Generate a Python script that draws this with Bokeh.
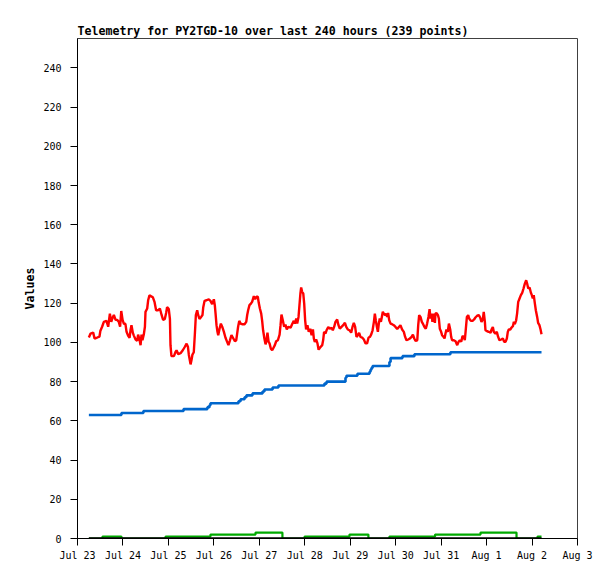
from bokeh.plotting import figure
from bokeh.models import FixedTicker, Range1d
from bokeh.embed import file_html
from bokeh.resources import INLINE

TITLE = "Telemetry for PY2TGD-10 over last 240 hours (239 points)"
Y_LABEL = "Values"

# x values are hours since Jul 23 00:00
day_ticks = [0, 24, 48, 72, 96, 120, 144, 168, 192, 216, 240, 264]
day_labels = ["Jul 23", "Jul 24", "Jul 25", "Jul 26", "Jul 27", "Jul 28",
              "Jul 29", "Jul 30", "Jul 31", "Aug 1", "Aug 2", "Aug 3"]
y_ticks = [0, 20, 40, 60, 80, 100, 120, 140, 160, 180, 200, 220, 240]

red_hours = [
    6.0, 6.9, 8.3, 9.0, 10.4, 11.6, 12.1, 13.0, 13.9, 15.3, 16.2, 17.1, 17.8, 18.7, 19.2,
    20.1, 20.9, 21.8, 22.5, 23.1, 23.8, 24.5, 25.3, 25.9, 26.8, 27.5, 28.0, 28.5, 29.2,
    29.7, 30.6, 31.5, 32.0, 32.7, 33.3, 33.8, 34.3, 35.0, 35.6, 35.9, 36.8, 37.3, 38.0,
    38.9, 39.8, 40.7, 41.5, 42.6, 43.5, 44.4, 45.2, 46.1, 46.8, 47.3, 48.2, 48.8, 49.1,
    49.6, 50.9, 51.7, 52.3, 53.2, 54.4, 55.6, 56.7, 57.6, 58.3, 58.8, 59.7, 60.2, 60.7,
    61.4, 62.0, 62.5, 63.2, 63.7, 64.4, 65.3, 66.0, 66.4,
    67.1, 68.1, 69.3, 70.2, 71.1, 72.0, 72.5, 72.9, 73.4, 73.9, 74.3, 75.0, 75.7, 76.4,
    77.3, 78.1, 79.0, 79.7, 80.4, 81.3, 82.0, 83.1, 83.8, 84.3, 84.8, 85.4, 86.1, 86.9,
    88.2, 89.1, 89.6, 90.1, 90.8, 91.3, 92.2, 93.1, 93.8, 94.5, 95.2, 95.7, 96.3, 97.0,
    97.5, 98.0, 98.7, 99.3, 99.8, 100.3, 100.9, 101.4, 102.1, 102.8, 103.5, 104.2, 104.9,
    105.8, 106.7, 107.2, 107.7, 108.4, 109.1, 109.8, 110.5, 111.4, 112.5, 113.3, 114.2,
    114.8, 115.5, 116.0, 116.7, 117.2, 117.7, 118.1, 118.6, 119.2, 119.7, 120.2, 120.7,
    121.4, 122.1, 122.9, 123.6, 124.3, 124.8, 125.3, 126.0, 126.7, 127.3, 128.0,
    129.2, 129.7, 130.2, 130.9, 131.5, 132.4, 133.2, 134.1, 134.8, 135.5, 136.2, 137.1,
    137.8, 138.5, 139.4, 140.3, 141.2, 141.9, 142.7, 143.6, 144.5, 145.2, 145.9, 146.6,
    147.3, 148.0, 148.7, 149.4, 150.3, 151.2, 152.1, 152.9, 153.7, 154.4, 155.1, 155.8,
    156.5, 157.0, 157.5, 158.1, 158.6, 159.1, 159.6, 160.2, 160.7, 161.2, 161.7, 162.5,
    163.0, 163.5, 164.0, 164.6, 165.3, 166.1, 167.0, 167.9, 168.8, 169.7, 170.5, 171.4,
    172.3, 173.0, 173.7, 174.6, 175.5, 176.4, 177.1, 177.8, 178.5, 179.4, 179.9, 180.4,
    181.1, 181.8, 182.5, 183.2, 183.9, 184.6, 185.3, 185.9, 186.4, 186.9, 187.4, 188.0,
    188.7,
    189.0, 189.6, 190.3, 190.8, 191.3, 192.0, 192.5, 193.3, 193.8, 194.3, 194.8, 195.5,
    196.1, 196.8, 197.3, 197.8, 198.7, 199.6, 200.5, 201.2, 201.9, 202.6, 203.3, 204.0,
    204.5, 204.9, 205.6, 206.3, 206.8, 207.7, 208.6, 209.4, 210.1, 211.0, 211.9, 212.6,
    213.3, 214.0, 214.5, 215.1, 215.4, 216.3, 217.2, 218.1, 218.6, 219.3, 219.8, 220.7,
    221.4, 222.1, 222.8, 223.7, 224.6, 225.3, 226.0, 226.7, 227.2, 227.7, 228.5, 229.2,
    229.9, 230.4, 230.9, 231.6, 232.1, 232.7, 233.4, 234.1, 234.8, 235.5, 236.2, 236.9,
    237.4, 238.0, 238.7, 239.4, 239.9, 240.4, 240.9, 241.5, 242.0, 242.7, 243.2, 243.9,
    244.5, 245.0,
]
red_values = [
    102.5, 104.5, 105, 102, 102.5, 103, 106, 108, 110.5, 111, 108, 114.7, 110.5, 113, 114,
    111.5, 111.5, 110.5, 108, 116, 111.5, 109.5, 109.5, 105.4, 103.3, 102.3, 106.3, 108.8, 105,
    103.6, 101.6, 100.8, 104, 101.6, 98.6, 104, 101.1, 104, 108, 115.6, 117.3, 121.5, 124,
    123.5, 123, 120.5, 116.4, 116.4, 117.3, 114, 111.5, 112, 115, 118, 117, 112, 98.6,
    93, 93, 95, 96, 94, 94.5, 96, 97.8, 99.4, 97.8, 93.6, 88.8, 91, 93.8,
    95, 104.8, 114, 116.4, 114, 112, 113, 114, 118,
    121.2, 121.5, 122, 121.2, 119.5, 122, 119, 114.7, 108.8, 105.4, 103.7, 107, 109.6, 108,
    105.4, 102.5, 100.3, 98.6, 100.8, 103.7, 102.5, 100.6, 101.1, 104.5, 108, 111, 109.6, 109.3,
    109.3, 110.5, 114, 116.4, 119, 119.5, 120.7, 123.6, 122, 123.3, 123.3, 120.2, 117.3, 114.7,
    111, 106.2, 101.9, 99, 101.1, 105, 100.3, 99.5, 96.8, 96, 97.3, 98.6, 100.6,
    101.1, 104, 108.8, 114.2, 111.3, 108, 109.1, 106.6, 108, 107.5, 109.3, 111,
    109.6, 112.2, 109.6, 113, 119, 125, 128, 125.8, 125, 119.8, 111.3, 106.6,
    108.8, 105.4, 107, 103.7, 106.6, 101.9, 100.3, 101.5, 99.5, 96.3, 97.3,
    98.6, 101.1, 105.4, 104.5, 106.2, 107.9, 107, 107.5, 106.2, 107.9, 110.5, 111.7,
    108.8, 107, 107.9, 108.8, 110, 107.9, 106.6, 106.2, 105, 107.9, 110, 107.9,
    102.8, 103.7, 104.9, 102.8, 102.5, 101.5, 99.5, 99.5, 102.5, 102.8, 104.1, 106.2,
    110.5, 114.7, 111.3, 107.9, 105.4, 109.6, 112.2, 110.5, 113, 115.6, 114.7, 113.9,
    114.7, 113, 115, 111.3, 109.6, 109.3, 108.8, 107.9, 106.8, 107.9, 108.8, 106.6,
    105.4, 102.8, 101.1, 101.5, 102, 102.8, 104, 102, 100.8, 101.1, 108.8, 113.9,
    113, 110.5, 109.3, 107.9, 107, 109.6, 113, 117, 112.2, 114.7, 110.5, 114.7,
    110,
    114.7, 115, 113.9, 112.2, 107, 105.4, 103.7, 102.8, 102, 104.5, 106.6, 105.4,
    109.6, 106.6, 102.8, 101.1, 101.1, 100.6, 98.6, 100.3, 101.1, 100.3, 103.2, 102.8,
    101.1, 105.4, 113, 113.9, 112.2, 111, 111, 111.7, 112.7, 113.6, 113.9, 112.7,
    110.5, 111.7, 115.6, 110.5, 106.2, 105.7, 105.4, 104.9, 106.6, 107.9, 105.4, 104.5,
    105.4, 102.8, 101.1, 101.5, 102, 100.3, 100.3, 102, 105.4, 106.6, 106.6, 107.6,
    108.3, 110.5, 109.3, 111.3, 114.7, 120.7, 122.4, 124.1, 125.3, 127.5, 130, 131.7,
    130, 127.5, 128, 125.3, 124.1, 122.4, 124.1, 119.8, 116.4, 113, 110, 108.8,
    106.6, 104.2,
]

blue_hours = [6.0, 23.2, 34.8, 56.0, 68.6, 69.7, 70.2, 85.0, 86.1, 88.2, 89.2, 92.4,
              97.7, 98.7, 103.0, 106.1, 130.4, 131.5, 141.5, 142.0, 147.8, 154.2,
              154.7, 155.2, 155.8, 164.7, 165.3, 171.6, 177.9, 196.9, 245.0]
blue_values = [63, 64, 65, 66, 67, 68, 69, 70, 71, 72, 73, 74,
               75, 76, 77, 78, 79, 80, 82, 83, 84, 85,
               86, 87, 88, 90, 92, 93, 94, 95, 95]

green_hours = [6.0, 13.2, 23.2, 46.5, 70.2, 94.0, 108.2, 119.9, 143.6, 153.6,
               164.7, 188.8, 212.8, 231.8, 242.9, 245.0]
green_values = [0, 1, 0, 1, 2, 3, 0, 1, 2, 0,
                1, 2, 3, 0, 1, 1]

black_hours = [6.0, 245.0]
black_values = [0, 0]

FONT = "DejaVu Sans Mono"

p = figure(width=607, height=571, output_backend="svg", toolbar_location=None,
           x_range=Range1d(0, 264), y_range=Range1d(0, 255),
           min_border_left=77, min_border_right=30, min_border_top=38, min_border_bottom=33,
           title=TITLE)
p.background_fill_color = "white"
p.border_fill_color = "white"
p.outline_line_color = "#404040"
p.outline_line_width = 1

p.title.text_font = FONT
p.title.text_font_size = "11.6px"
p.title.text_font_style = "bold"
p.title.text_color = "black"
p.title.standoff = 2
p.title.offset = 0

p.xgrid.grid_line_color = None
p.ygrid.grid_line_color = None

p.xaxis.ticker = FixedTicker(ticks=day_ticks)
p.xaxis.major_label_overrides = {t: l for t, l in zip(day_ticks, day_labels)}
p.yaxis.ticker = FixedTicker(ticks=y_ticks)

for ax in (p.xaxis[0], p.yaxis[0]):
    ax.axis_line_color = "black"
    ax.axis_line_width = 1
    ax.major_tick_line_color = "black"
    ax.major_tick_in = 0
    ax.major_tick_out = 7
    ax.minor_tick_line_color = None
    ax.major_label_text_font = FONT
    ax.major_label_text_font_size = "10px"
    ax.major_label_text_color = "black"

p.xaxis.major_label_standoff = 4
p.yaxis.major_label_standoff = 9
p.yaxis.axis_label = Y_LABEL
p.yaxis.axis_label_text_font = FONT
p.yaxis.axis_label_text_font_size = "11.6px"
p.yaxis.axis_label_text_font_style = "bold"
p.yaxis.axis_label_text_color = "black"
p.yaxis.axis_label_standoff = 3

p.line(red_hours, red_values, line_color="#ff0000", line_width=2.4)
p.step(blue_hours, blue_values, mode="after", line_color="#0066cc", line_width=2.6)
p.step(green_hours, green_values, mode="after", line_color="#00aa00", line_width=2.2)
p.line(black_hours, black_values, line_color="black", line_width=2.5)

open("out.html", "w").write(file_html(p, INLINE))
